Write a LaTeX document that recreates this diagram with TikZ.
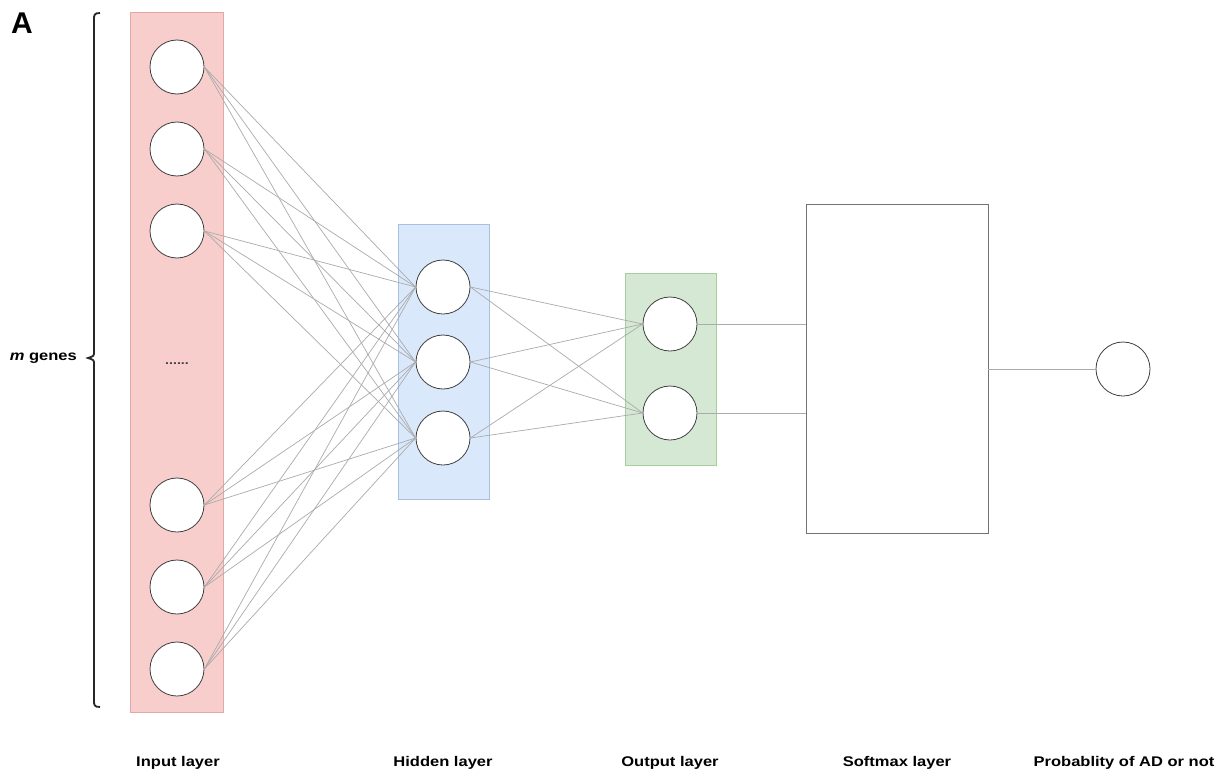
\documentclass[tikz,border=0pt]{standalone}
\usepackage{fontspec}
\setmainfont{Liberation Sans}
\newfontfamily\lblfont[FakeStretch=1.18]{Liberation Sans}
\definecolor{inFill}{HTML}{F8CECC}
\definecolor{inDraw}{HTML}{E0A8A6}
\definecolor{hidFill}{HTML}{DAE8FC}
\definecolor{hidDraw}{HTML}{A9C0E2}
\definecolor{outFill}{HTML}{D5E8D4}
\definecolor{outDraw}{HTML}{A9CC9C}
\begin{document}
\begin{tikzpicture}[x=1pt,y=-1pt,
  neuron/.style={circle,draw=black!75,fill=white,line width=0.8pt,minimum size=54pt,inner sep=0pt},
  conn/.style={draw=black!33,line width=0.7pt},
  layerbox/.style={rectangle,line width=0.8pt,inner sep=0pt},
  lbl/.style={font=\lblfont\fontsize{14}{17}\selectfont\bfseries,inner sep=0pt}]
\useasboundingbox (0,0) rectangle (1225,776);
\fill[white] (0,0) rectangle (1225,776);

% layer boxes
\node[layerbox,draw=inDraw,fill=inFill,minimum width=93pt,minimum height=700pt] (inbox) at (176.5,362) {};
\node[layerbox,draw=hidDraw,fill=hidFill,minimum width=91pt,minimum height=275pt] (hidbox) at (443.5,361.5) {};
\node[layerbox,draw=outDraw,fill=outFill,minimum width=91pt,minimum height=192pt] (outbox) at (670.5,369) {};
\node[layerbox,draw=black!55,fill=white,minimum width=182pt,minimum height=329pt] (soft) at (897,368.5) {};

% neurons
\node[neuron] (i1) at (177,67) {};
\node[neuron] (i2) at (177,149) {};
\node[neuron] (i3) at (177,231) {};
\node[neuron] (i4) at (177,505) {};
\node[neuron] (i5) at (177,587) {};
\node[neuron] (i6) at (177,669) {};
\node[lbl,font=\lblfont\fontsize{12}{14}\selectfont\bfseries,text=black!75] (dots) at (177,364) {......};

\node[neuron] (h1) at (443,287) {};
\node[neuron] (h2) at (443,362) {};
\node[neuron] (h3) at (443,438) {};

\node[neuron] (o1) at (670,324) {};
\node[neuron] (o2) at (670,413) {};

\node[neuron] (p) at (1123,369) {};

% connections
\foreach \i in {1,...,6}{
  \foreach \h in {1,2,3}{
    \draw[conn] (i\i.east) -- (h\h.west);
  }
}
\foreach \h in {1,2,3}{
  \foreach \o in {1,2}{
    \draw[conn] (h\h.east) -- (o\o.west);
  }
}
\draw[conn] (o1.east) -- (o1.east -| soft.west);
\draw[conn] (o2.east) -- (o2.east -| soft.west);
\draw[conn] (soft.east |- p.west) -- (p.west);

% brace
\coordinate (bt) at (100,13);
\coordinate (bb) at (100,707);
\coordinate (bm) at (88,358);
\draw[line width=1.8pt,black!85] (bt) .. controls (94,13) and (94,15) .. (94,20)
  -- (94,352) .. controls (94,356) .. (bm) .. controls (94,360) .. (94,364)
  -- (94,700) .. controls (94,705) and (94,707) .. (bb);
\node[lbl,anchor=east] (mg) at (77,358) {\textit{m} genes};

% panel letter
\node[font=\fontsize{30}{36}\selectfont\bfseries,inner sep=0pt,anchor=north west] (A) at (11,13) {A};

% bottom labels
\node[lbl] (l1) at (178,763) {Input layer};
\node[lbl] (l2) at (443,763) {Hidden layer};
\node[lbl] (l3) at (670,763) {Output layer};
\node[lbl] (l4) at (897,763) {Softmax layer};
\node[lbl] (l5) at (1124,763) {Probablity of AD or not};
\end{tikzpicture}
\end{document}
